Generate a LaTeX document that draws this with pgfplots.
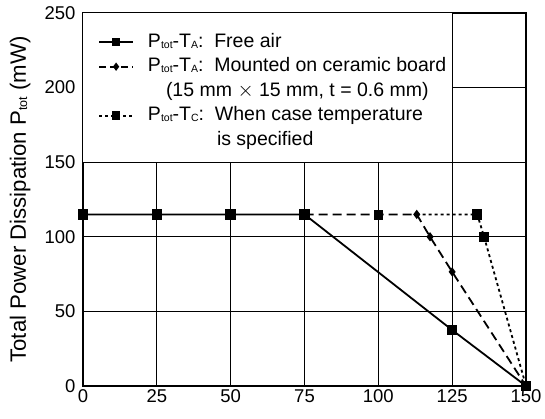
\documentclass[border=0pt]{standalone}
\usepackage{pgfplots}
\pgfplotsset{compat=1.18}
\usepackage{fontspec}
\setmainfont{Liberation Sans}
\newcommand\sub[1]{\raisebox{-0.1ex}{\fontsize{10.5}{11}\selectfont #1}}
\newcommand\bigsub[1]{\raisebox{-0.1ex}{\fontsize{12.5}{13}\selectfont #1}}
\begin{document}
\begin{tikzpicture}
\begin{axis}[
    scale only axis,
    width=443pt, height=373pt,
    xmin=0, xmax=150, ymin=0, ymax=250,
    xtick={0,25,50,75,100,125,150},
    ytick={0,50,100,150,200,250},
    grid=major,
    major grid style={black, line width=1pt},
    major tick length=0pt,
    axis line style={line width=1.8pt},
    /pgf/number format/assume math mode=true,
    tick label style={font=\fontsize{18.5}{21}\selectfont},
    xticklabel style={yshift=-0.5pt},
    yticklabel style={xshift=-4pt},
    ylabel={Total Power Dissipation P\bigsub{tot} (mW)},
    ylabel style={at={(rel axis cs:0,0.5)}, anchor=south, yshift=49pt, font=\fontsize{22.2}{25}\selectfont},
    legend cell align=left,
    legend style={at={(axis cs:0,250)}, anchor=north west, xshift=15pt, yshift=-20pt,
        draw=none, fill=none, inner sep=0pt, row sep=6.5pt, column sep=14pt,
        font=\fontsize{19.5}{22}\selectfont,
        nodes={inner sep=0pt, text height=14pt, text depth=4pt}},
    legend image code/.code={\draw[mark repeat=2,mark phase=2,#1] plot coordinates {(0pt,0pt) (17pt,0pt) (34pt,0pt)};},
]
\filldraw[fill=white, draw=black, line width=1pt] (axis cs:0,150) rectangle (axis cs:125,250);

% case temperature specified
\addplot[forget plot, black, line width=1.8pt, dash pattern=on 3pt off 3pt,
    mark=square*, mark size=4.3pt, mark indices={2,3}, mark options={solid}]
    coordinates {(113,115)(133.5,115)(135.8,100)(150,0)};
\addplot[forget plot, only marks, black, mark=square*, mark size=4.3pt]
    coordinates {(100,115)};
% ceramic board
\addplot[forget plot, black, line width=1.8pt, dash pattern=on 9pt off 5pt,
    mark=diamond*, mark size=3.2pt, mark indices={2,3,4}, mark options={solid}]
    coordinates {(75,115)(113,115)(117.5,100)(125,76.5)(150,0)};
% free air
\addplot[forget plot, black, line width=1.8pt, mark=square*, mark size=4.3pt]
    coordinates {(0,115)(25,115)(50,115)(75,115)(125,37.5)(150,0)};

\addlegendimage{black, line width=1.8pt, mark=square*, mark size=3.3pt}
\addlegendentry{P\sub{tot}-T\sub{A}:\ \ Free air}
\addlegendimage{black, line width=1.8pt, dash pattern=on 7pt off 4pt, mark=diamond*, mark size=2.7pt, mark options={solid}}
\addlegendentry{P\sub{tot}-T\sub{A}:\ \ Mounted on ceramic board}
\addlegendimage{empty legend}
\addlegendentry{\hspace{18pt}(15 mm $\times$ 15 mm, t = 0.6 mm)}
\addlegendimage{black, line width=1.8pt, dash pattern=on 3pt off 3pt, mark=square*, mark size=3.3pt, mark options={solid}}
\addlegendentry{P\sub{tot}-T\sub{C}:\ \ When case temperature}
\addlegendimage{empty legend}
\addlegendentry{\hspace{69pt}is specified}
\end{axis}
\pgfresetboundingbox
\path (current axis.south west) ++(-83pt,-33pt) rectangle ([shift={(19pt,13pt)}]current axis.north east);
\end{tikzpicture}
\end{document}
